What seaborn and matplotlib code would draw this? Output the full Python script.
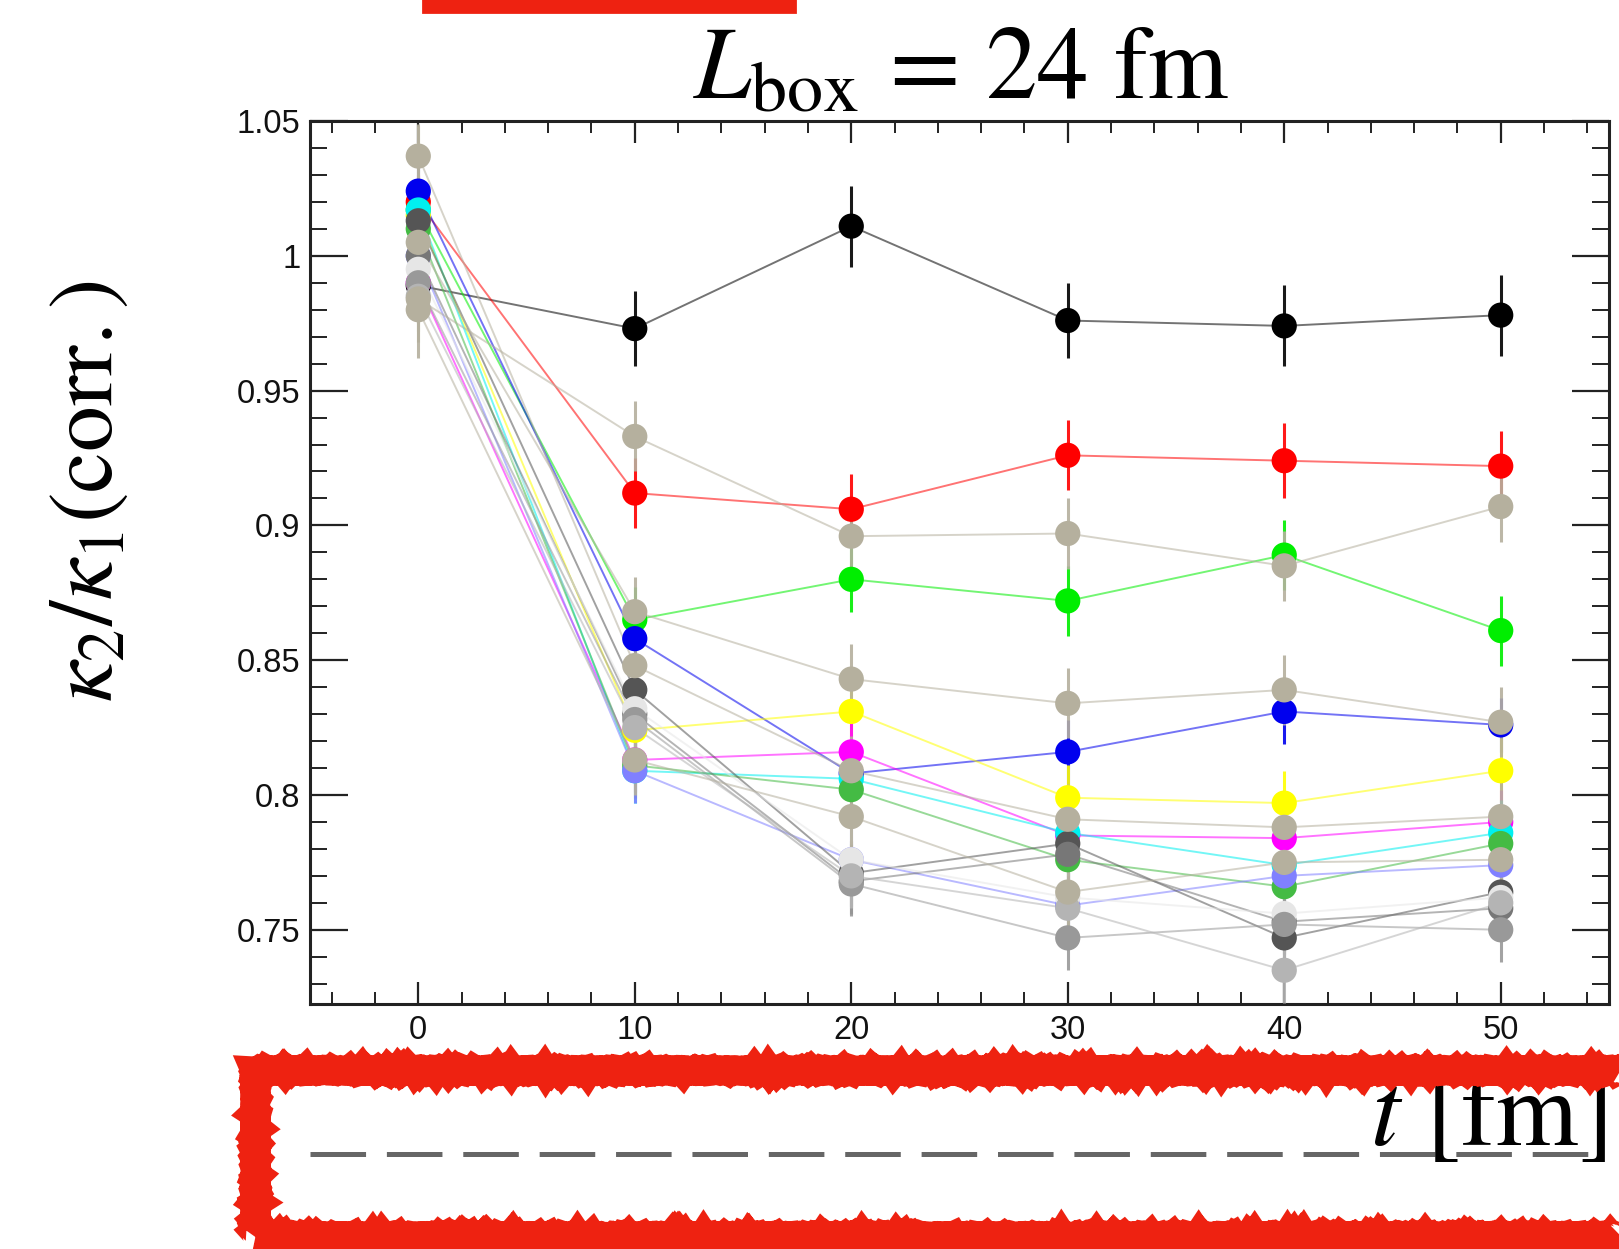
import numpy as np
import pandas as pd
import matplotlib
matplotlib.use("Agg")
import matplotlib.pyplot as plt
import seaborn as sns
from matplotlib.patches import Rectangle
from matplotlib.lines import Line2D
from matplotlib.ticker import MultipleLocator, FixedLocator, FixedFormatter

# ---------------- data ----------------
t_values = [0, 10, 20, 30, 40, 50]

black_vals    = [0.989, 0.973, 1.011, 0.976, 0.974, 0.978]
red_vals      = [1.020, 0.912, 0.906, 0.926, 0.924, 0.922]
green_vals    = [1.017, 0.865, 0.880, 0.872, 0.889, 0.861]
blue_vals     = [1.024, 0.858, 0.808, 0.816, 0.831, 0.826]
yellow_vals   = [1.015, 0.824, 0.831, 0.799, 0.797, 0.809]
magenta_vals  = [0.990, 0.813, 0.816, 0.785, 0.784, 0.790]
cyan_vals     = [1.017, 0.809, 0.806, 0.786, 0.774, 0.786]
midgreen_vals = [1.010, 0.811, 0.802, 0.776, 0.766, 0.782]
lavender_vals = [1.000, 0.809, 0.776, 0.759, 0.770, 0.774]
gray1_vals    = [1.013, 0.839, 0.771, 0.782, 0.747, 0.764]
gray2_vals    = [1.000, 0.830, 0.768, 0.778, 0.753, 0.758]
gray3_vals    = [0.995, 0.832, 0.776, 0.762, 0.756, 0.762]
gray4_vals    = [0.990, 0.828, 0.767, 0.747, 0.752, 0.750]
gray5_vals    = [0.985, 0.825, 0.770, 0.758, 0.735, 0.760]
tan1_vals     = [0.984, 0.933, 0.896, 0.897, 0.885, 0.907]
tan2_vals     = [1.005, 0.868, 0.843, 0.834, 0.839, 0.827]
tan3_vals     = [1.037, 0.848, 0.809, 0.791, 0.788, 0.792]
tan4_vals     = [0.980, 0.813, 0.792, 0.764, 0.775, 0.776]

black_err    = [0.012, 0.014, 0.015, 0.014, 0.015, 0.015]
red_err      = [0.010, 0.013, 0.013, 0.013, 0.014, 0.013]
green_err    = [0.010, 0.012, 0.012, 0.013, 0.013, 0.013]
blue_err     = [0.010, 0.012, 0.010, 0.012, 0.012, 0.010]
yellow_err   = [0.010, 0.012, 0.012, 0.012, 0.012, 0.012]
magenta_err  = [0.010, 0.012, 0.012, 0.012, 0.012, 0.012]
cyan_err     = [0.010, 0.012, 0.012, 0.012, 0.012, 0.012]
midgreen_err = [0.010, 0.012, 0.012, 0.012, 0.012, 0.012]
lavender_err = [0.010, 0.012, 0.012, 0.012, 0.012, 0.012]
gray_err     = [0.010, 0.012, 0.012, 0.012, 0.012, 0.012]
tan1_err     = [0.012, 0.013, 0.013, 0.013, 0.013, 0.013]
tan2_err     = [0.043, 0.013, 0.013, 0.013, 0.013, 0.013]
tan3_err     = [0.012, 0.013, 0.013, 0.013, 0.013, 0.013]
tan4_err     = [0.012, 0.013, 0.013, 0.013, 0.013, 0.013]

series_names = ["black", "red", "green", "blue", "yellow", "magenta", "cyan",
                "midgreen", "lavender", "gray1", "gray2", "gray3", "gray4",
                "gray5", "tan1", "tan2", "tan3", "tan4"]
series_vals = [black_vals, red_vals, green_vals, blue_vals, yellow_vals,
               magenta_vals, cyan_vals, midgreen_vals, lavender_vals,
               gray1_vals, gray2_vals, gray3_vals, gray4_vals, gray5_vals,
               tan1_vals, tan2_vals, tan3_vals, tan4_vals]
series_errs = [black_err, red_err, green_err, blue_err, yellow_err,
               magenta_err, cyan_err, midgreen_err, lavender_err,
               gray_err, gray_err, gray_err, gray_err, gray_err,
               tan1_err, tan2_err, tan3_err, tan4_err]
series_colors = ["#000000", "#ff0000", "#00ee00", "#0000ee", "#ffff00",
                 "#ff00ff", "#00f0f0", "#44bb44", "#8080ff",
                 "#555555", "#777777", "#e6e6e6", "#999999", "#b4b4b4",
                 "#b5b09e", "#b5b09e", "#b5b09e", "#b5b09e"]

y_tick_values = [0.75, 0.80, 0.85, 0.90, 0.95, 1.00, 1.05]
y_tick_labels = ["0.75", "0.8", "0.85", "0.9", "0.95", "1", "1.05"]
x_tick_values = [0, 10, 20, 30, 40, 50]
x_tick_labels = ["0", "10", "20", "30", "40", "50"]

title_text = r"$L_{\mathrm{box}}$ = 24 fm"
ylabel_text = r"$\kappa_2/\kappa_1(\mathrm{corr.})$"
xlabel_text = r"$t$ [fm]"

# ---------------- frame ----------------
rows = []
for name, vals in zip(series_names, series_vals):
    for t, v in zip(t_values, vals):
        rows.append({"series": name, "t": t, "val": v})
df = pd.DataFrame(rows)
palette = dict(zip(series_names, series_colors))

sns.set_theme(style="white")
plt.rcParams["font.family"] = ["Liberation Sans", "DejaVu Sans"]
plt.rcParams["mathtext.fontset"] = "stix"
plt.rcParams["lines.scale_dashes"] = False

fig = plt.figure(figsize=(16.19, 12.49), dpi=100)
fig.patch.set_facecolor("white")
ax = fig.add_axes([0.1915, 0.1962, 0.8023, 0.7069])
ax.set_facecolor("white")

sns.lineplot(data=df, x="t", y="val", hue="series", hue_order=series_names,
             palette=palette, legend=False, alpha=0.55, linewidth=1.4,
             sort=False, estimator=None, ax=ax, zorder=2)

for name, vals, errs, col in zip(series_names, series_vals, series_errs, series_colors):
    ax.errorbar(t_values, vals, yerr=errs, fmt="none", ecolor=col,
                elinewidth=2.2, capsize=0, alpha=0.9, zorder=3)

sns.scatterplot(data=df, x="t", y="val", hue="series", hue_order=series_names,
                palette=palette, legend=False, s=330, edgecolor="none",
                linewidth=0, ax=ax, zorder=4)

ax.set_xlim(-5, 55)
ax.set_ylim(0.7225, 1.05)
ax.xaxis.set_major_locator(FixedLocator(x_tick_values))
ax.xaxis.set_major_formatter(FixedFormatter(x_tick_labels))
ax.xaxis.set_minor_locator(MultipleLocator(2))
ax.yaxis.set_major_locator(FixedLocator(y_tick_values))
ax.yaxis.set_major_formatter(FixedFormatter(y_tick_labels))
ax.yaxis.set_minor_locator(MultipleLocator(0.01))

ax.tick_params(axis="x", which="major", direction="in", top=True, bottom=True,
               length=16, width=1.6, color="#222222", labelsize=23.5, pad=8)
ax.tick_params(axis="x", which="minor", direction="in", top=True, bottom=True,
               length=8.5, width=1.4, color="#222222")
ax.tick_params(axis="y", which="major", direction="in", left=True, right=True,
               length=27, width=1.6, color="#222222", labelsize=23.5, pad=7)
ax.tick_params(axis="y", which="minor", direction="in", left=True, right=True,
               length=12, width=1.4, color="#222222")
for lab in ax.get_xticklabels() + ax.get_yticklabels():
    lab.set_color("#111111")

for sp in ax.spines.values():
    sp.set_visible(True)
    sp.set_linewidth(2.2)
    sp.set_color("#222222")

ax.set_xlabel("")
ax.set_ylabel("")

# title & labels
fig.text(0.594, 0.921, title_text, ha="center", va="baseline",
         fontsize=74, color="black", family="STIXGeneral")
fig.text(0.054, 0.607, ylabel_text, ha="center", va="center",
         rotation=90, fontsize=66, color="black")
fig.text(0.992, 0.083, xlabel_text, ha="right", va="baseline",
         fontsize=76, color="black", family="STIXGeneral")

# dashed line
fig.add_artist(Line2D([0.1915, 0.992], [0.0761, 0.0761], transform=fig.transFigure,
                      color="#666666", linewidth=3.6, dashes=(40, 15)))

# red box annotation
box = Rectangle((0.1575, 0.0104), 0.95, 0.1329, transform=fig.transFigure,
                fill=False, edgecolor="#ee2211", linewidth=21, zorder=10)
box.set_sketch_params(scale=0.8, length=6, randomness=4)
fig.add_artist(box)
top_mark = Rectangle((0.2613, 0.9905), 0.2298, 0.02, transform=fig.transFigure,
                     facecolor="#ee2211", edgecolor="#ee2211", linewidth=2, zorder=10)
fig.add_artist(top_mark)

fig.savefig("out.png", dpi=100, facecolor="white")
